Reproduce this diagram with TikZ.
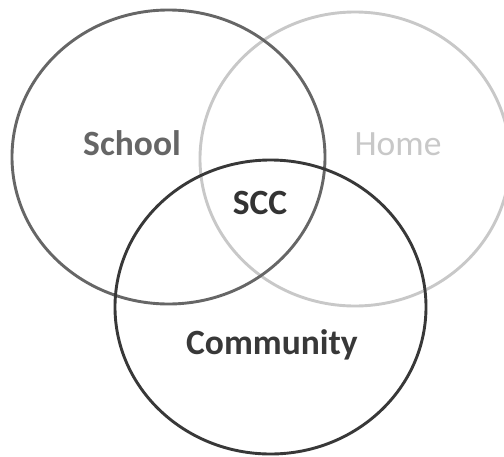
\documentclass[tikz,border=0pt]{standalone}
\usepackage{fontspec}
\setmainfont{Carlito}
\usepackage{xcolor}
\usetikzlibrary{positioning}
\definecolor{schoolgray}{HTML}{666666}
\definecolor{homegray}{HTML}{C8C8C8}
\definecolor{commgray}{HTML}{383838}
\tikzstyle{ring}=[line width=2.9pt]
\tikzstyle{lbl}=[anchor=base, inner sep=0, font=\fontsize{35.5}{40}\selectfont]

\begin{document}
\begin{tikzpicture}[x=1pt, y=-1pt]
                \useasboundingbox[fill=white] (0,0) rectangle (504,456);
                % the three sets
                \draw[ring, homegray] (355,159) ellipse [x radius=155, y radius=147];
                \draw[ring, schoolgray] (168.5,157) ellipse [x radius=156.5, y radius=147];
                \draw[ring, commgray] (270.5,307) ellipse [x radius=155.5, y radius=147];
                % labels
                \node[lbl, text=schoolgray, font=\fontsize{35.5}{40}\selectfont\bfseries] (school) at (132,155) {School};
                \node[lbl, text=homegray] (home) at (398,155) {Home};
                \node[lbl, text=black!80, font=\fontsize{35.5}{40}\selectfont\bfseries] (scc) at (260,214) {SCC};
                \node[lbl, text=commgray, font=\fontsize{35.5}{40}\selectfont\bfseries] (community) at (272,354) {Community};
\end{tikzpicture}
\end{document}
